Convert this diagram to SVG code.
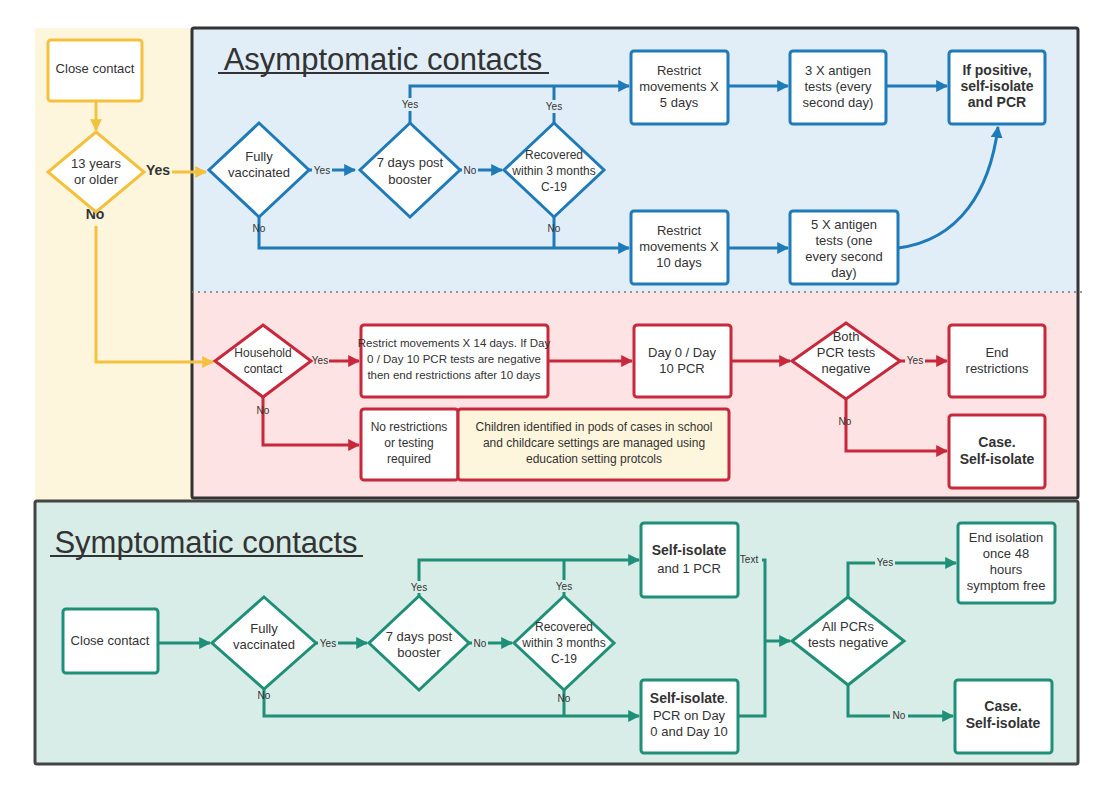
<svg xmlns="http://www.w3.org/2000/svg" width="1120" height="788" viewBox="0 0 1120 788">
<style>
text{font-family:"Liberation Sans",Arial,sans-serif;fill:#333;text-anchor:middle}
.t{font-size:13px}
.n{font-size:12px}
.m{font-size:11.5px}
.s{font-size:10px}
.b{font-weight:bold}
.y{fill:#fff;stroke:#f4c13e;stroke-width:3}
.bl{fill:#fff;stroke:#1f7ab8;stroke-width:3}
.r{fill:#fff;stroke:#c8283c;stroke-width:3}
.g{fill:#fff;stroke:#1f8f78;stroke-width:3}
.cy{fill:none;stroke:#f4c13e;stroke-width:3}
.cb{fill:none;stroke:#1f7ab8;stroke-width:3}
.cr{fill:none;stroke:#c8283c;stroke-width:3}
.cg{fill:none;stroke:#1f8f78;stroke-width:3}
</style>
<defs>
<marker id="ay" viewBox="0 0 10 10" refX="9" refY="5" markerWidth="4" markerHeight="4" orient="auto"><path d="M0,0L10,5L0,10z" fill="#f4c13e"/></marker>
<marker id="ab" viewBox="0 0 10 10" refX="9" refY="5" markerWidth="4" markerHeight="4" orient="auto"><path d="M0,0L10,5L0,10z" fill="#1f7ab8"/></marker>
<marker id="ar" viewBox="0 0 10 10" refX="9" refY="5" markerWidth="4" markerHeight="4" orient="auto"><path d="M0,0L10,5L0,10z" fill="#c8283c"/></marker>
<marker id="ag" viewBox="0 0 10 10" refX="9" refY="5" markerWidth="4" markerHeight="4" orient="auto"><path d="M0,0L10,5L0,10z" fill="#1f8f78"/></marker>
</defs>
<rect width="1120" height="788" fill="#fff"/>
<rect x="35" y="28" width="157" height="472" fill="#fdf5dc"/>
<rect x="192" y="28" width="886" height="264" fill="#e1eef7"/>
<rect x="192" y="292" width="886" height="206" fill="#fde3e3"/>
<rect x="192" y="28" width="886" height="470" fill="none" stroke="#333" stroke-width="3" rx="2"/>
<line x1="192" y1="292" x2="1086" y2="292" stroke="#777" stroke-width="1.5" stroke-dasharray="2,4"/>
<rect x="35" y="501" width="1043" height="263" fill="#d8ede8" stroke="#444" stroke-width="3" rx="2"/>
<text x="383" y="70" style="font-size:31px">Asymptomatic contacts</text>
<line x1="218" y1="73" x2="549" y2="73" stroke="#333" stroke-width="2"/>
<text x="206" y="553" style="font-size:31px">Symptomatic contacts</text>
<line x1="50" y1="556" x2="363" y2="556" stroke="#333" stroke-width="2"/>

<g id="connectors">
<path class="cy" d="M96,101V130" marker-end="url(#ay)"/>
<path class="cy" d="M172,172H206" marker-end="url(#ay)"/>
<path class="cy" d="M96,226V362H213" marker-end="url(#ay)"/>
<path class="cb" d="M309,170H355" marker-end="url(#ab)"/>
<path class="cb" d="M460,170H502" marker-end="url(#ab)"/>
<path class="cb" d="M410,123V86H629" marker-end="url(#ab)"/>
<path class="cb" d="M554,123V86"/>
<path class="cb" d="M259,217V248H629" marker-end="url(#ab)"/>
<path class="cb" d="M554,217V248"/>
<path class="cb" d="M728,86H788" marker-end="url(#ab)"/>
<path class="cb" d="M886,86H947" marker-end="url(#ab)"/>
<path class="cb" d="M728,248H788" marker-end="url(#ab)"/>
<path class="cb" d="M898,248C960,240 990,190 998,127" marker-end="url(#ab)"/>
<path class="cr" d="M311,361H359" marker-end="url(#ar)"/>
<path class="cr" d="M548,361H632" marker-end="url(#ar)"/>
<path class="cr" d="M731,361H790" marker-end="url(#ar)"/>
<path class="cr" d="M900,361H947" marker-end="url(#ar)"/>
<path class="cr" d="M263,397V445H359" marker-end="url(#ar)"/>
<path class="cr" d="M846,399V451H947" marker-end="url(#ar)"/>
<path class="cg" d="M158,643H210" marker-end="url(#ag)"/>
<path class="cg" d="M316,643H367" marker-end="url(#ag)"/>
<path class="cg" d="M469,643H512" marker-end="url(#ag)"/>
<path class="cg" d="M419,596V560H639" marker-end="url(#ag)"/>
<path class="cg" d="M564,596V560"/>
<path class="cg" d="M264,689V716H639" marker-end="url(#ag)"/>
<path class="cg" d="M564,690V716"/>
<path class="cg" d="M738,560H765V716H738"/>
<path class="cg" d="M765,641H790" marker-end="url(#ag)"/>
<path class="cg" d="M848,597V563H956" marker-end="url(#ag)"/>
<path class="cg" d="M848,685V716H953" marker-end="url(#ag)"/>
<text x="158" y="175" class="b" style="font-size:14px">Yes</text>
<text x="95" y="219" class="b" style="font-size:14px">No</text>
<rect x="312" y="164" width="20" height="12" fill="#e1eef7"/><text x="322" y="174" class="s">Yes</text>
<rect x="462" y="164" width="16" height="12" fill="#e1eef7"/><text x="470" y="174" class="s">No</text>
<rect x="400" y="98" width="20" height="13" fill="#e1eef7"/><text x="410" y="108" class="s">Yes</text>
<rect x="544" y="100" width="20" height="13" fill="#e1eef7"/><text x="554" y="110" class="s">Yes</text>
<text x="259" y="232" class="s">No</text>
<text x="554" y="232" class="s">No</text>
<rect x="311" y="355" width="18" height="12" fill="#fde3e3"/><text x="320" y="364" class="s">Yes</text>
<rect x="905" y="355" width="20" height="12" fill="#fde3e3"/><text x="915" y="364" class="s">Yes</text>
<text x="263" y="414" class="s">No</text>
<text x="845" y="425" class="s">No</text>
<rect x="318" y="637" width="20" height="12" fill="#d8ede8"/><text x="328" y="647" class="s">Yes</text>
<rect x="472" y="637" width="16" height="12" fill="#d8ede8"/><text x="480" y="647" class="s">No</text>
<rect x="409" y="581" width="20" height="12" fill="#d8ede8"/><text x="419" y="591" class="s">Yes</text>
<rect x="554" y="580" width="20" height="12" fill="#d8ede8"/><text x="564" y="590" class="s">Yes</text>
<text x="264" y="699" class="s">No</text>
<text x="564" y="702" class="s">No</text>
<rect x="738" y="554" width="24" height="11" fill="#d8ede8"/><text x="749" y="563" class="s">Text</text>
<rect x="875" y="557" width="20" height="12" fill="#d8ede8"/><text x="885" y="566" class="s">Yes</text>
<rect x="890" y="710" width="18" height="12" fill="#d8ede8"/><text x="899" y="719" class="s">No</text>
</g>

<g id="y-close"><rect class="y" x="48" y="40" width="94" height="61" rx="3"/><text class="t" x="95" y="73">Close contact</text></g>
<g id="y-age"><path class="y" d="M96,132L144,172L96,212L48,172Z"/><text class="t" x="96" y="168">13 years</text><text class="t" x="96" y="184">or older</text></g>

<g id="b-vacc"><path class="bl" d="M259,123L309,170L259,217L209,170Z"/><text class="t" x="259" y="161">Fully</text><text class="t" x="259" y="177">vaccinated</text></g>
<g id="b-boost"><path class="bl" d="M410,123L460,170L410,217L360,170Z"/><text class="t" x="410" y="167">7 days post</text><text class="t" x="410" y="184">booster</text></g>
<g id="b-rec"><path class="bl" d="M554,123L604,170L554,217L504,170Z"/><text class="n" x="554" y="159">Recovered</text><text class="n" x="554" y="175">within 3 months</text><text class="n" x="554" y="191">C-19</text></g>
<g id="b-r5"><rect class="bl" x="631" y="51" width="97" height="73" rx="3"/><text class="t" x="679" y="75">Restrict</text><text class="t" x="679" y="91">movements X</text><text class="t" x="679" y="107">5 days</text></g>
<g id="b-3x"><rect class="bl" x="790" y="51" width="96" height="73" rx="3"/><text class="t" x="838" y="75">3 X antigen</text><text class="t" x="838" y="91">tests (every</text><text class="t" x="838" y="107">second day)</text></g>
<g id="b-pos"><rect class="bl" x="949" y="51" width="96" height="73" rx="3"/><text class="t b" x="997" y="75" style="font-size:14px">If positive,</text><text class="t b" x="997" y="91" style="font-size:14px">self-isolate</text><text class="t b" x="997" y="107" style="font-size:14px">and PCR</text></g>
<g id="b-r10"><rect class="bl" x="631" y="211" width="97" height="73" rx="3"/><text class="t" x="679" y="235">Restrict</text><text class="t" x="679" y="251">movements X</text><text class="t" x="679" y="267">10 days</text></g>
<g id="b-5x"><rect class="bl" x="790" y="211" width="108" height="73" rx="3"/><text class="t" x="844" y="229">5 X antigen</text><text class="t" x="844" y="245">tests (one</text><text class="t" x="844" y="261">every second</text><text class="t" x="844" y="277">day)</text></g>

<g id="r-house"><path class="r" d="M263,325L311,361L263,397L215,361Z"/><text class="n" x="263" y="357">Household</text><text class="n" x="263" y="373">contact</text></g>
<g id="r-r14"><rect class="r" x="361" y="325" width="187" height="72" rx="3"/><text class="m" x="454" y="347">Restrict movements X 14 days. If Day</text><text class="m" x="454" y="363">0 / Day 10 PCR tests are negative</text><text class="m" x="454" y="379">then end restrictions after 10 days</text></g>
<g id="r-pcr"><rect class="r" x="634" y="325" width="97" height="72" rx="3"/><text class="t" x="682" y="357">Day 0 / Day</text><text class="t" x="682" y="373">10 PCR</text></g>
<g id="r-both"><path class="r" d="M846,323L900,361L846,399L792,361Z"/><text class="t" x="846" y="341">Both</text><text class="t" x="846" y="357">PCR tests</text><text class="t" x="846" y="373">negative</text></g>
<g id="r-end"><rect class="r" x="949" y="325" width="96" height="72" rx="3"/><text class="t" x="997" y="357">End</text><text class="t" x="997" y="373">restrictions</text></g>
<g id="r-none"><rect class="r" x="361" y="409" width="97" height="71" rx="3"/><text class="n" x="409" y="431">No restrictions</text><text class="n" x="409" y="447">or testing</text><text class="n" x="409" y="463">required</text></g>
<g id="r-child"><rect class="r" x="458" y="409" width="271" height="71" rx="3" style="fill:#fdf5dc"/><text class="n" x="594" y="431">Children identified  in pods of cases in school</text><text class="n" x="594" y="447">and childcare settings are managed using</text><text class="n" x="594" y="463">education setting protcols</text></g>
<g id="r-case"><rect class="r" x="949" y="415" width="96" height="73" rx="3"/><text class="t b" x="997" y="447" style="font-size:14px">Case.</text><text class="t b" x="997" y="464" style="font-size:14px">Self-isolate</text></g>

<g id="g-close"><rect class="g" x="63" y="609" width="95" height="64" rx="3"/><text class="t" x="110" y="645">Close contact</text></g>
<g id="g-vacc"><path class="g" d="M264,597L316,643L264,689L212,643Z"/><text class="t" x="264" y="633">Fully</text><text class="t" x="264" y="649">vaccinated</text></g>
<g id="g-boost"><path class="g" d="M419,596L469,643L419,690L369,643Z"/><text class="t" x="419" y="641">7 days post</text><text class="t" x="419" y="657">booster</text></g>
<g id="g-rec"><path class="g" d="M564,596L614,643L564,690L514,643Z"/><text class="n" x="564" y="631">Recovered</text><text class="n" x="564" y="647">within 3 months</text><text class="n" x="564" y="663">C-19</text></g>
<g id="g-si1"><rect class="g" x="641" y="523" width="97" height="74" rx="3"/><text class="t b" x="689" y="555" style="font-size:14px">Self-isolate</text><text class="t" x="689" y="573">and 1 PCR</text></g>
<g id="g-si2"><rect class="g" x="641" y="680" width="97" height="73" rx="3"/><text class="t" x="689" y="703"><tspan class="b" style="font-size:14px">Self-isolate</tspan>.</text><text class="t" x="689" y="720">PCR on Day</text><text class="t" x="689" y="736">0 and Day 10</text></g>
<g id="g-all"><path class="g" d="M848,597L904,641L848,685L792,641Z"/><text class="t" x="848" y="631">All PCRs</text><text class="t" x="848" y="647">tests negative</text></g>
<g id="g-end"><rect class="g" x="958" y="523" width="97" height="80" rx="3"/><text class="t" x="1006" y="542">End isolation</text><text class="t" x="1006" y="558">once 48</text><text class="t" x="1006" y="574">hours</text><text class="t" x="1006" y="590">symptom free</text></g>
<g id="g-case"><rect class="g" x="955" y="680" width="97" height="73" rx="3"/><text class="t b" x="1003" y="711" style="font-size:14px">Case.</text><text class="t b" x="1003" y="728" style="font-size:14px">Self-isolate</text></g>
</svg>
